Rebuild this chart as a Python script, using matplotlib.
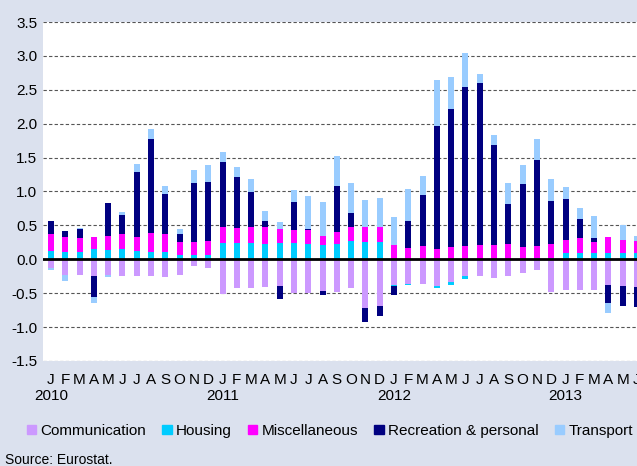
import numpy as np
import matplotlib
matplotlib.use("Agg")
import matplotlib.pyplot as plt
from matplotlib.patches import Patch

plt.rcParams['font.family'] = ['Liberation Sans', 'DejaVu Sans']

# monthly contributions, Jan 2010 .. Jun 2013
months = list("JFMAMJJASOND") * 3 + list("JFMAMJ")
years = ["2010", "2011", "2012", "2013"]

communication = [-0.13, -0.23, -0.23, -0.25, -0.23, -0.24, -0.25, -0.25, -0.26, -0.23, -0.10, -0.13,
                 -0.51, -0.43, -0.43, -0.41, -0.40, -0.50, -0.50, -0.47, -0.48, -0.43, -0.72, -0.69,
                 -0.38, -0.37, -0.37, -0.39, -0.33, -0.25, -0.25, -0.27, -0.25, -0.20, -0.16, -0.48,
                 -0.46, -0.45, -0.45, -0.38, -0.40, -0.41]
housing = [0.12, 0.11, 0.11, 0.15, 0.14, 0.15, 0.12, 0.11, 0.11, 0.06, 0.06, 0.06,
           0.24, 0.24, 0.24, 0.22, 0.24, 0.24, 0.22, 0.21, 0.22, 0.27, 0.26, 0.26,
           -0.02, -0.01, 0.0, -0.04, -0.05, -0.04, 0.0, 0.0, 0.0, 0.0, 0.02, 0.02,
           0.10, 0.10, 0.10, 0.10, 0.10, 0.10]
miscellaneous = [0.25, 0.22, 0.20, 0.18, 0.20, 0.22, 0.21, 0.28, 0.26, 0.20, 0.19, 0.21,
                 0.24, 0.22, 0.24, 0.26, 0.21, 0.19, 0.21, 0.13, 0.18, 0.20, 0.21, 0.21,
                 0.21, 0.17, 0.20, 0.15, 0.18, 0.19, 0.21, 0.21, 0.22, 0.18, 0.18, 0.20,
                 0.18, 0.21, 0.16, 0.23, 0.18, 0.17]
recreation = [0.19, 0.09, 0.13, -0.31, 0.49, 0.28, 0.96, 1.39, 0.60, 0.11, 0.88, 0.87,
              0.95, 0.76, 0.51, 0.08, -0.19, 0.42, 0.02, -0.05, 0.68, 0.21, -0.20, -0.15,
              -0.12, 0.39, 0.75, 1.82, 2.04, 2.35, 2.39, 1.48, 0.60, 0.93, 1.26, 0.64,
              0.61, 0.28, 0.05, -0.26, -0.29, -0.30]
transport = [-0.03, -0.09, 0.02, -0.09, -0.03, 0.05, 0.12, 0.14, 0.11, 0.08, 0.19, 0.25,
             0.15, 0.14, 0.19, 0.15, 0.10, 0.17, 0.48, 0.50, 0.44, 0.44, 0.41, 0.43,
             0.42, 0.47, 0.28, 0.68, 0.47, 0.50, 0.13, 0.15, 0.30, 0.28, 0.31, 0.33,
             0.18, 0.17, 0.33, -0.15, 0.23, 0.07]

series = [("Communication", communication, "#CC99FF"),
          ("Housing", housing, "#00CCFF"),
          ("Miscellaneous", miscellaneous, "#FF00FF"),
          ("Recreation & personal", recreation, "#000080"),
          ("Transport", transport, "#99CCFF")]

bg = "#DBE1EE"
fig = plt.figure(figsize=(6.37, 4.66), dpi=100, facecolor=bg)
ax = fig.add_axes([43 / 637, 105 / 466, 594 / 637, 339 / 466])
ax.set_facecolor("white")

x = np.arange(len(months))
pos = np.zeros(len(x))
neg = np.zeros(len(x))
for name, vals, col in series:
    v = np.array(vals)
    p = np.where(v > 0, v, 0)
    n = np.where(v < 0, v, 0)
    ax.bar(x, p, 0.42, bottom=pos, color=col, zorder=3)
    ax.bar(x, n, 0.42, bottom=neg, color=col, zorder=3)
    pos += p
    neg += n

ax.set_ylim(-1.5, 3.5)
ax.set_xlim(-0.56, 41.0)
ax.set_yticks(np.arange(-1.5, 3.51, 0.5))
ax.set_yticklabels([f"{t:.1f}" for t in np.arange(-1.5, 3.51, 0.5)], fontsize=11)
ax.grid(axis="y", color="#555555", linestyle=(0, (3, 2)), linewidth=0.8, zorder=0)
ax.axhline(0, color="black", linewidth=2, zorder=4)
ax.set_xticks(x)
ax.set_xticklabels(months, fontsize=11)
ax.tick_params(length=0)
ax.tick_params(axis="x", pad=9)
ax.tick_params(axis="y", pad=4)
for s in ax.spines.values():
    s.set_visible(False)

for i, yr in enumerate(years):
    ax.text(i * 12, -35 / 339, yr, transform=ax.get_xaxis_transform(),
            ha="center", va="center", fontsize=11)

handles = [Patch(color=c, label=n) for n, _, c in series]
fig.legend(handles=handles, loc="center", bbox_to_anchor=(0.518, 35 / 466), ncol=5,
           frameon=False, fontsize=11, handlelength=0.6, handleheight=0.6,
           handletextpad=0.3, columnspacing=1.05)

fig.text(5 / 637, 6 / 466, "Source: Eurostat.", fontsize=10, ha="left", va="center")

fig.savefig("out.png", dpi=100, facecolor=bg)
